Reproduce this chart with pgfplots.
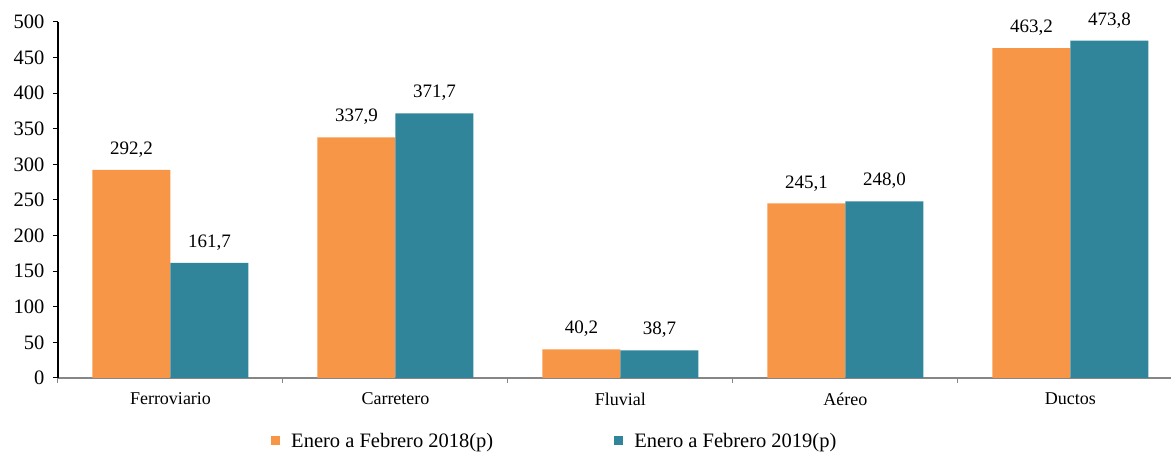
\documentclass[border=0pt]{standalone}
\usepackage{fontspec}
\setmainfont{Liberation Serif}
\usepackage{pgfplots}
\pgfplotsset{compat=1.18}
\definecolor{naranja}{RGB}{247,150,70}
\definecolor{azul}{RGB}{49,133,155}
\definecolor{ejegris}{RGB}{134,134,134}
\begin{document}
\begin{tikzpicture}[x=1pt,y=1pt]
\useasboundingbox (0,0) rectangle (1171,452);
\begin{axis}[
  at={(58pt,74pt)}, anchor=south west,
  scale only axis, width=1113pt, height=356pt,
  ymin=0, ymax=500, ytick={0,50,...,500},
  xmin=-0.5, xmax=4.447,
  xtick={-0.5,0.5,1.5,2.5,3.5}, xticklabels={},
  extra x ticks={0,1,2,3,4},
  extra x tick labels={Ferroviario,Carretero,Fluvial,A\'ereo,Ductos},
  extra x tick style={major tick length=0pt, tick label style={font=\fontsize{18}{20}\selectfont, yshift=-11pt}},
  axis x line*=bottom, axis y line*=left,
  x axis line style={draw=ejegris, line width=1.2pt, -},
  y axis line style={draw=black, line width=1.2pt, -},
  tick align=outside, major tick length=5pt,
  x tick style={draw=ejegris, line width=1pt},
  y tick style={draw=black, line width=1pt},
  yticklabel style={font=\fontsize{20.5}{22}\selectfont, xshift=-5pt},
  /pgf/number format/assume math mode=true,
  ybar=0pt, bar width=78pt,
  nodes near coords,
  nodes near coords style={font=\fontsize{19}{21}\selectfont, text=black,
     /pgf/number format/fixed, /pgf/number format/fixed zerofill,
     /pgf/number format/precision=1, /pgf/number format/use comma,
     /pgf/number format/assume math mode=true},
  every node near coord/.append style={anchor=south, yshift=9pt},
  legend columns=2,
  legend cell align=left,
  legend style={draw=none, fill=none, at={(0.1887,-0.176)}, anchor=west,
     font=\fontsize{20.5}{22}\selectfont,
     /tikz/every odd column/.append style={column sep=9pt},
     /tikz/every even column/.append style={column sep=119pt}},
]
\addplot[fill=naranja, draw=none, legend image code/.code={\fill[naranja] (0pt,-4.5pt) rectangle (9pt,4.5pt);}]
  coordinates {(0,292.2) (1,337.9) (2,40.2) (3,245.1) (4,463.2)};
\addplot[fill=azul, draw=none, legend image code/.code={\fill[azul] (0pt,-4.5pt) rectangle (9pt,4.5pt);}]
  coordinates {(0,161.7) (1,371.7) (2,38.7) (3,248.0) (4,473.8)};
\legend{Enero a Febrero 2018(p), Enero a Febrero 2019(p)}
\end{axis}
\end{tikzpicture}
\end{document}
